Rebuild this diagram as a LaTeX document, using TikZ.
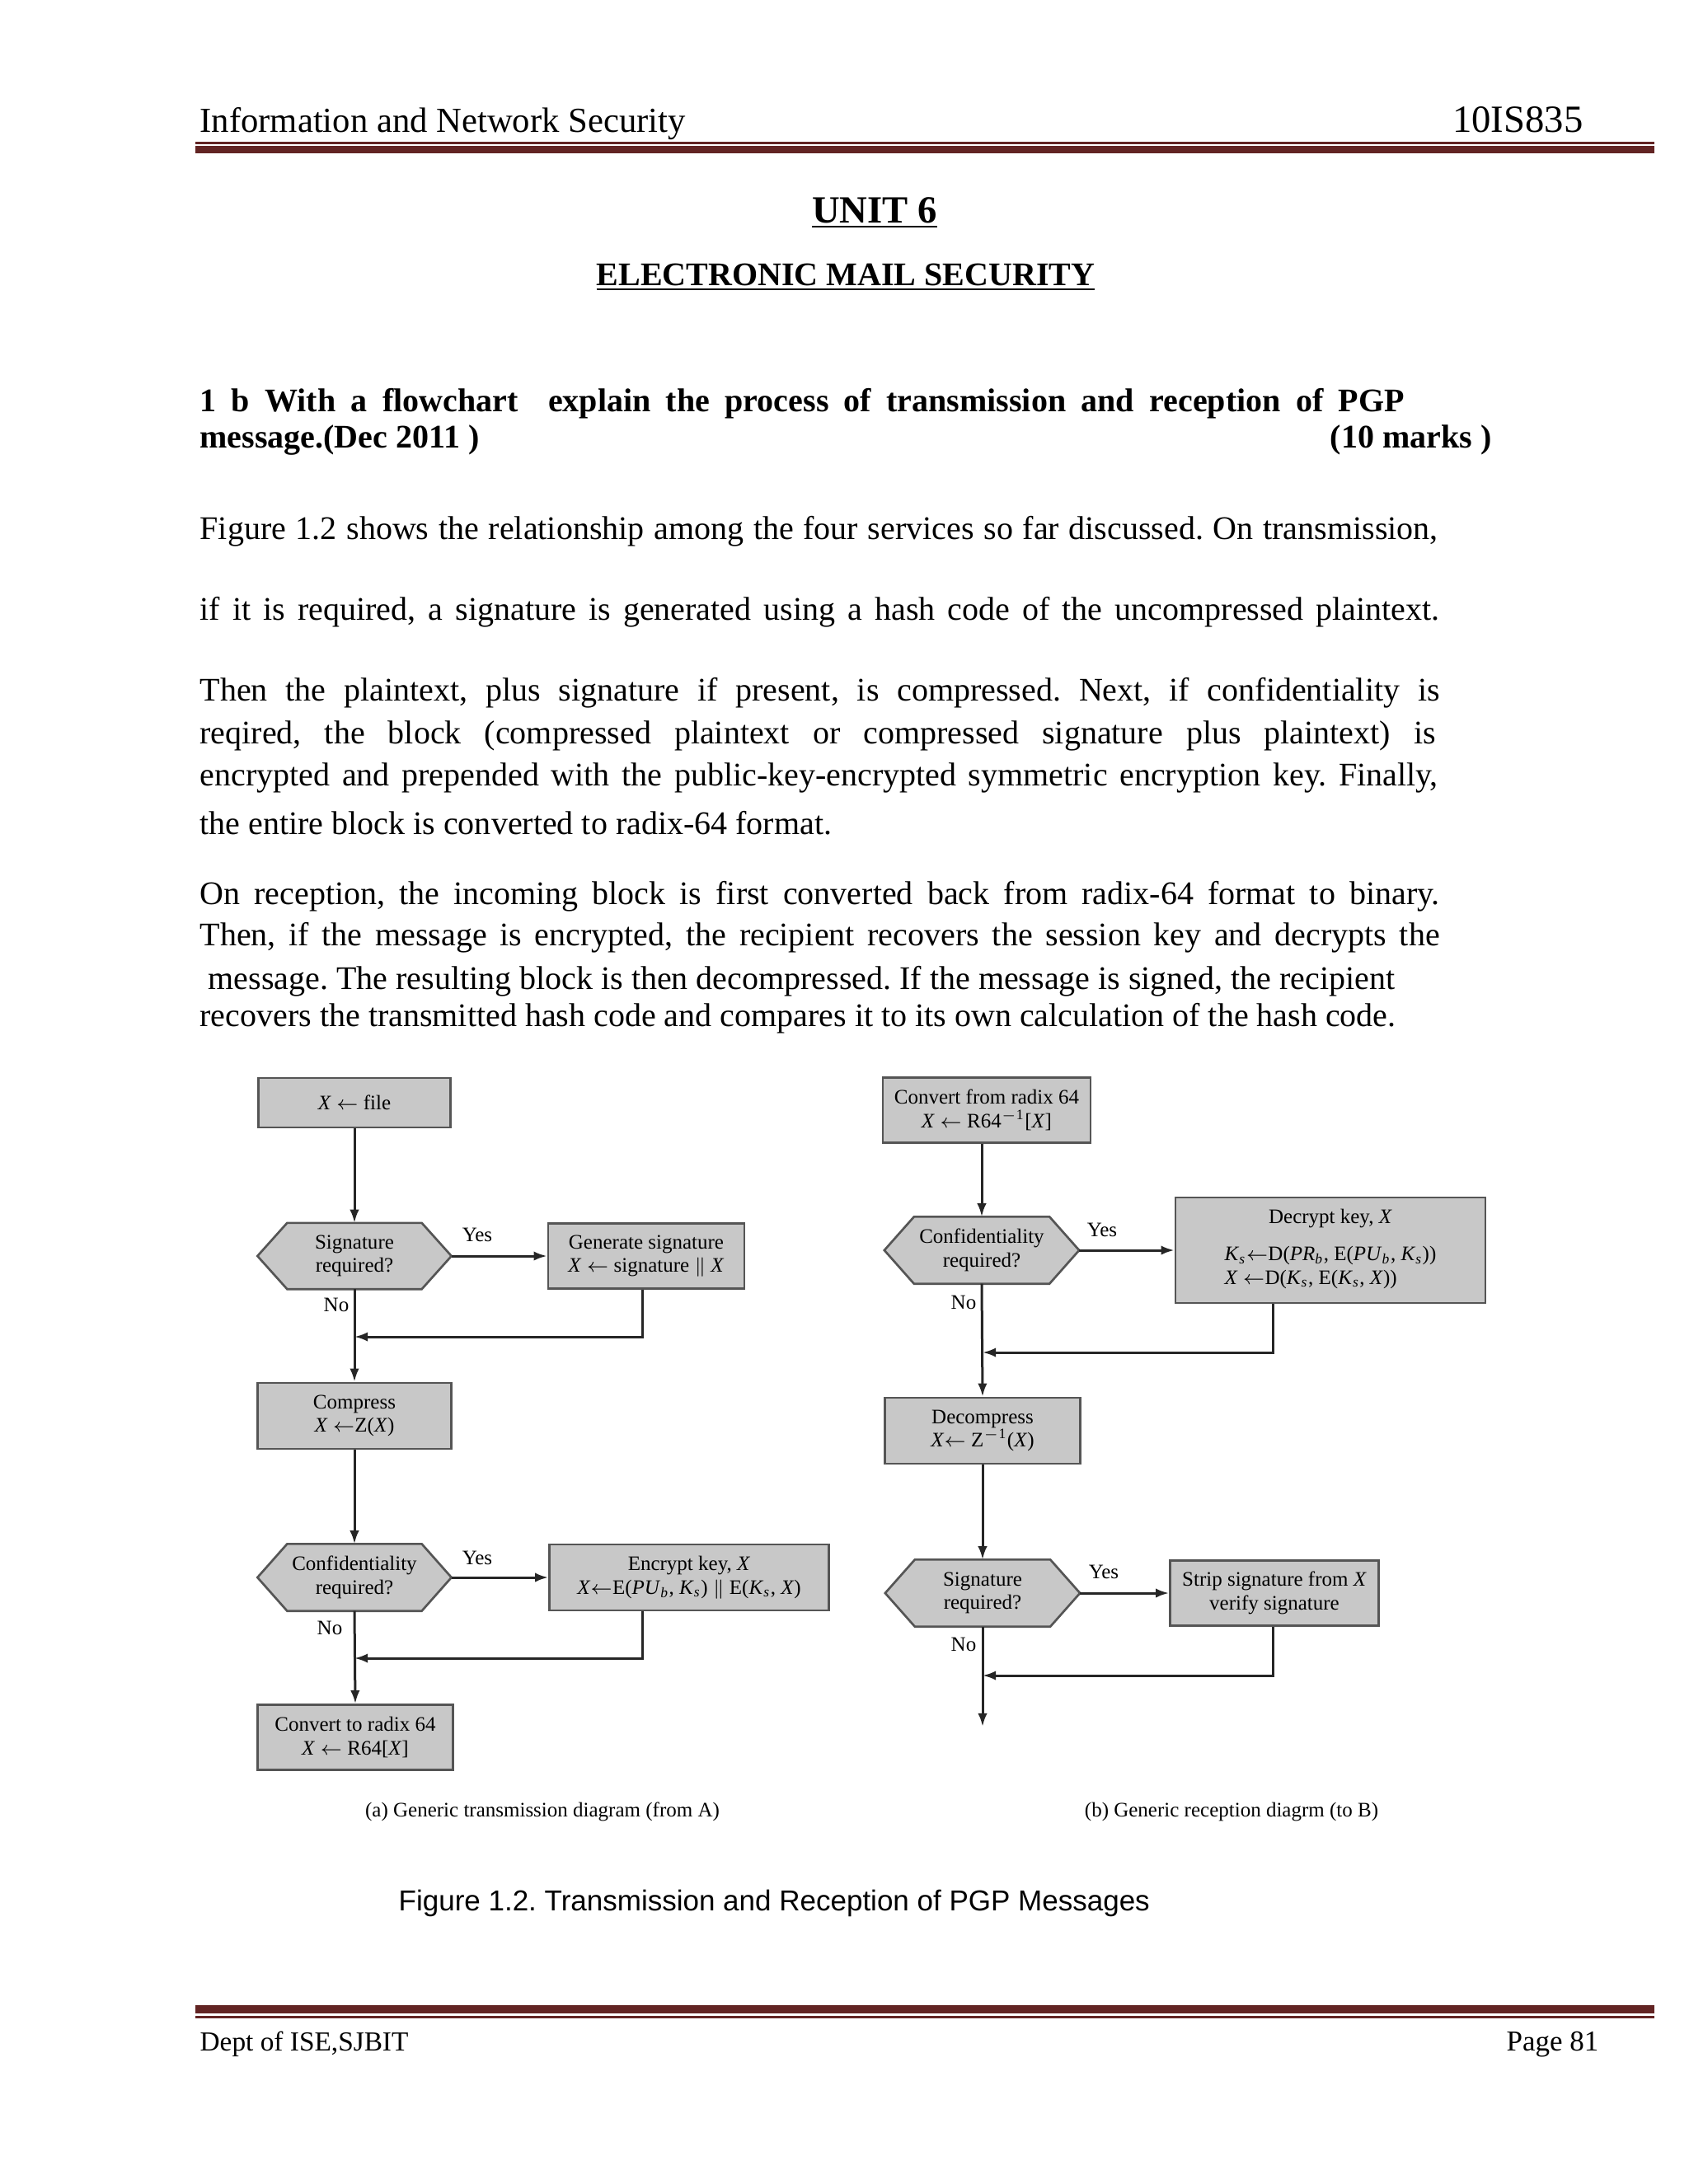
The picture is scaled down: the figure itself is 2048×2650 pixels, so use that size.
\documentclass[tikz,border=0pt]{standalone}
\usepackage{fontspec}
\setmainfont{Liberation Serif}
\newfontfamily\capfont{Liberation Sans}
\usetikzlibrary{arrows.meta,backgrounds,calc}
\newlength\pxu
\setlength\pxu{0.10542mm}
\definecolor{hdrred}{HTML}{622423}
\definecolor{boxfill}{HTML}{C8C8C8}
\definecolor{boxline}{HTML}{555555}
\definecolor{conn}{HTML}{262626}
\newcommand\myarr{$\leftarrow$}
\newcommand\myit[1]{\textit{#1}}
\newcommand\mysub[1]{\textsubscript{\textit{#1}}}
\newcommand\flowfont{\fontsize{7.5}{8.6}\selectfont}
\frenchspacing
\begin{document}
\frenchspacing
\begin{tikzpicture}[x=0.10542mm,y=-0.10542mm,
  fbox/.style={draw=boxline, fill=boxfill, line width=0.8pt, align=center, inner sep=1pt, font=\flowfont},
  hexn/.style={align=center, inner sep=1pt, font=\flowfont},
  arr/.style={draw=conn, line width=0.9pt, -{Latex[length=1.7mm,width=1.2mm]}},
  lbl/.style={font=\flowfont, inner sep=0pt},
  body/.style={anchor=base west, inner sep=0pt, font=\fontsize{12}{14}\selectfont},
  hdr/.style={inner sep=0pt, font=\fontsize{12.8}{14}\selectfont},
  ftr/.style={inner sep=0pt, font=\fontsize{10}{12}\selectfont},
  hexsh/.style={draw=boxline, fill=boxfill, line width=0.8pt}]

\begin{scope}[on background layer]
  \fill[white] (0,0) rectangle (2048,2650);
\end{scope}
\useasboundingbox (0,0) rectangle (2048,2650);

% header
\node[hdr, anchor=base west] (hl) at (242,160) {Information and Network Security};
\node[hdr, anchor=base east, font=\fontsize{14}{16}\selectfont] (hr) at (1921,160) {10IS835};
\fill[hdrred] (237,172) rectangle (2007,174.5);
\fill[hdrred] (237,177) rectangle (2007,186);

% footer
\fill[hdrred] (237,2433) rectangle (2007,2443);
\fill[hdrred] (237,2446) rectangle (2007,2448.5);
\node[ftr, anchor=base west] (fl) at (242,2488) {Dept of ISE,SJBIT};
\node[ftr, anchor=base east, font=\fontsize{10.5}{12}\selectfont] (fr) at (1940,2488) {Page 81};

% titles
\node[inner sep=0pt, anchor=base, font=\fontsize{14}{16}\selectfont\bfseries] (unit) at (1061,270) {\underline{UNIT 6}};
\node[inner sep=0pt, anchor=base, font=\fontsize{12}{14}\selectfont\bfseries] (ems) at (1026,346) {\underline{ELECTRONIC MAIL SECURITY}};

% question
\node[body, font=\fontsize{12}{14}\selectfont\bfseries] (q1) at (242,499) {\makebox[1461\pxu][s]{1 b With a flowchart\ \ explain the process of transmission and reception of PGP}};
\node[body, font=\fontsize{12}{14}\selectfont\bfseries] (q2) at (242,543) {message.(Dec 2011 )};
\node[body, anchor=base east, font=\fontsize{12}{14}\selectfont\bfseries] (q3) at (1810,543) {(10 marks )};

% body text
\node[body] (b1) at (242,654) {\makebox[1502\pxu][s]{Figure 1.2 shows the relationship among the four services so far discussed. On transmission,}};
\node[body] (b2) at (242,752) {\makebox[1504\pxu][s]{if it is required, a signature is generated using a hash code of the uncompressed plaintext.}};
\node[body] (b3) at (242,850) {\makebox[1504\pxu][s]{Then the plaintext, plus signature if present, is compressed. Next, if confidentiality is}};
\node[body] (b4) at (242,902) {\makebox[1499\pxu][s]{reqired, the block (compressed plaintext or compressed signature plus plaintext) is}};
\node[body] (b5) at (242,953) {\makebox[1502\pxu][s]{encrypted and prepended with the public-key-encrypted symmetric encryption key. Finally,}};
\node[body] (b6) at (242,1012) {the entire block is converted to radix-64 format.};
\node[body] (b7) at (242,1097) {\makebox[1504\pxu][s]{On reception, the incoming block is first converted back from radix-64 format to binary.}};
\node[body] (b8) at (242,1147) {\makebox[1504\pxu][s]{Then, if the message is encrypted, the recipient recovers the session key and decrypts the}};
\node[body] (b9) at (252,1200) {message. The resulting block is then decompressed. If the message is signed, the recipient};
\node[body] (b10) at (242,1245) {recovers the transmitted hash code and compares it to its own calculation of the hash code.};

% ===== left flowchart =====
\node[fbox, minimum width=233\pxu, minimum height=60\pxu] (n1) at (430,1338) {\myit{X} \myarr{} file};
\node[hexn, minimum width=234\pxu, minimum height=79\pxu] (d1) at (430,1524) {Signature\\required?};
\node[fbox, minimum width=238\pxu, minimum height=79\pxu] (g1) at (784,1524) {Generate signature\\\myit{X} \myarr{} signature $\|$ \myit{X}};
\node[fbox, minimum width=235\pxu, minimum height=80\pxu] (c1) at (430,1718) {Compress\\\myit{X} \myarr{}Z(\myit{X})};
\node[hexn, minimum width=234\pxu, minimum height=80\pxu] (d2) at (430,1914) {Confidentiality\\required?};
\node[fbox, minimum width=339\pxu, minimum height=80\pxu] (e1) at (836,1914) {Encrypt key, \myit{X}\\\myit{X}\myarr{}E(\myit{PU}\mysub{b}, \myit{K}\mysub{s}) $\|$ E(\myit{K}\mysub{s}, \myit{X})};
\node[fbox, minimum width=237\pxu, minimum height=79\pxu] (r1) at (431,2108) {Convert to radix 64\\\myit{X} \myarr{} R64[\myit{X}]};

\coordinate (j1) at (430,1622);
\coordinate (j2) at (430,2012);

\draw[arr] (n1.south) -- (d1.north);
\draw[arr] (d1.east) -- (g1.west);
\draw[arr] ([xshift=-5\pxu]g1.south) |- (j1);
\draw[arr] (d1.south) -- (c1.north);
\draw[arr] (c1.south) -- (d2.north);
\draw[arr] (d2.east) -- (e1.west);
\draw[arr] ([xshift=-57\pxu]e1.south) |- (j2);
\draw[arr] (d2.south) -- (r1.north);

\node[lbl] (y1) at (579,1498) {Yes};
\node[lbl] (no1) at (408,1583) {No};
\node[lbl] (y2) at (579,1890) {Yes};
\node[lbl] (no2) at (400,1975) {No};
\node[lbl] (capa) at (658,2198) {(a) Generic transmission diagram (from A)};

% ===== right flowchart =====
\node[fbox, minimum width=252\pxu, minimum height=79\pxu] (m1) at (1197,1347) {Convert from radix 64\\\myit{X} \myarr{} R64\textsuperscript{$-$1}[\myit{X}]};
\node[hexn, minimum width=235\pxu, minimum height=80\pxu] (d3) at (1191,1517) {Confidentiality\\required?};
\node[fbox, minimum width=376\pxu, minimum height=128\pxu] (k1) at (1614,1517) {Decrypt key, \myit{X}\\[5pt]\begin{tabular}{@{}l@{}}\myit{K}\mysub{s}\myarr{}D(\myit{PR}\mysub{b}, E(\myit{PU}\mysub{b}, \myit{K}\mysub{s}))\\\myit{X} \myarr{}D(\myit{K}\mysub{s}, E(\myit{K}\mysub{s}, \myit{X}))\end{tabular}};
\node[fbox, minimum width=237\pxu, minimum height=80\pxu] (z1) at (1192,1736) {Decompress\\\myit{X}\myarr{} Z\textsuperscript{$-$1}(\myit{X})};
\node[hexn, minimum width=235\pxu, minimum height=80\pxu] (d4) at (1192,1933) {Signature\\required?};
\node[fbox, minimum width=253\pxu, minimum height=79\pxu] (s1) at (1546,1933) {Strip signature from \myit{X}\\verify signature};

\coordinate (j3) at (1192,1641);
\coordinate (j4) at (1192,2033);
\coordinate (endr) at (1192,2095);

\draw[arr] (m1.south -| d3.north) -- (d3.north);
\draw[arr] (d3.east) -- (k1.west);
\draw[arr] ([xshift=-70\pxu]k1.south) |- (j3);
\draw[arr] (d3.south) -- (z1.north);
\draw[arr] (z1.south) -- (d4.north);
\draw[arr] (d4.east) -- (s1.west);
\draw[arr] ([xshift=-2\pxu]s1.south) |- (j4);
\draw[arr] (d4.south) -- (endr);

\node[lbl] (y3) at (1337,1492) {Yes};
\node[lbl] (no3) at (1169,1580) {No};
\node[lbl] (y4) at (1339,1907) {Yes};
\node[lbl] (no4) at (1169,1995) {No};
\node[lbl] (capb) at (1494,2198) {(b) Generic reception diagrm (to B)};

% hexagon outlines
\begin{scope}[on background layer]
\foreach \h in {d1,d2,d3,d4}{
  \filldraw[hexsh] (\h.west) -- ([xshift=36\pxu]\h.north west) -- ([xshift=-36\pxu]\h.north east) -- (\h.east) -- ([xshift=-36\pxu]\h.south east) -- ([xshift=36\pxu]\h.south west) -- cycle;
}
\end{scope}

% figure caption
\node[inner sep=0pt, anchor=base west, font=\capfont\fontsize{10.5}{12}\selectfont] (figcap) at (483,2318) {Figure 1.2. Transmission and Reception of PGP Messages};
\end{tikzpicture}
\end{document}
